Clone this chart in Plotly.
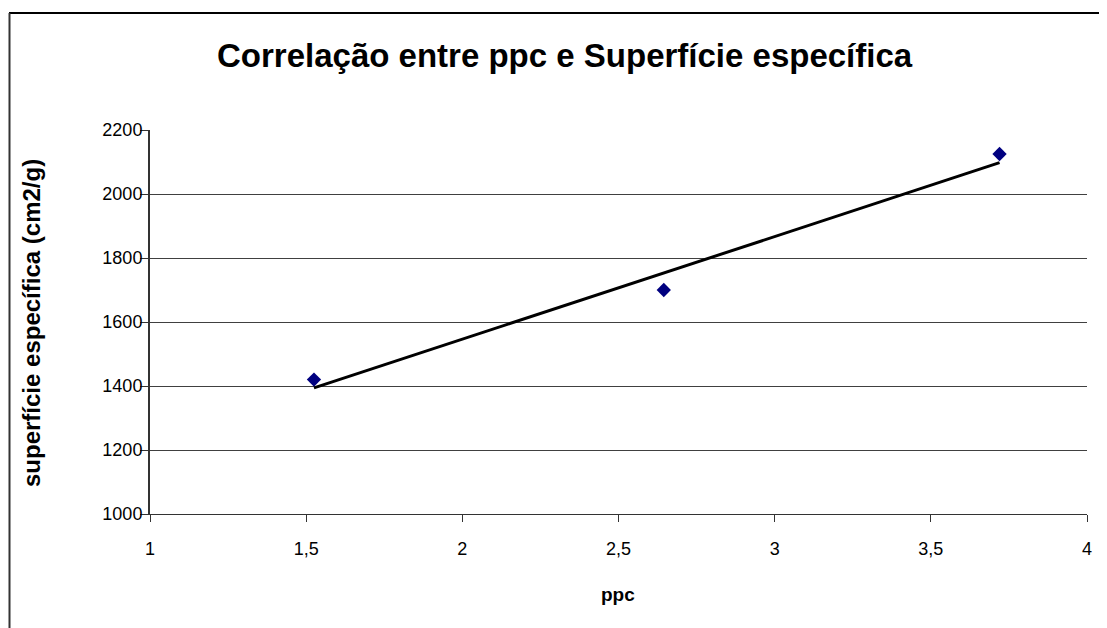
import numpy as np
import plotly.graph_objects as go

# values
ppc = [1.525, 2.645, 3.72]
superficie = [1420, 1700, 2125]

x_ticks = [1, 1.5, 2, 2.5, 3, 3.5, 4]
y_ticks = [1000, 1200, 1400, 1600, 1800, 2000, 2200]

FONT = "Arial, Liberation Sans, sans-serif"

# linear trend line (Excel style) fitted to the points
slope, intercept = np.polyfit(ppc, superficie, 1)
trend_x = [min(ppc), max(ppc)]
trend_y = [slope * v + intercept for v in trend_x]

fig = go.Figure()
fig.add_trace(go.Scatter(
    x=trend_x, y=trend_y, mode="lines",
    line=dict(color="black", width=3),
    hoverinfo="skip", showlegend=False
))
fig.add_trace(go.Scatter(
    x=ppc, y=superficie, mode="markers",
    marker=dict(symbol="diamond", size=11, color="#000080"),
    showlegend=False
))

# page body has an 8px margin, so the figure is offset by 8px
fig.update_layout(
    width=1107, height=628,
    margin=dict(l=142, r=28, t=122, b=122),
    paper_bgcolor="white", plot_bgcolor="white",
    separators=",.",
    font=dict(family=FONT, size=18, color="black"),
    xaxis=dict(
        range=[1, 4], tickvals=x_ticks, showgrid=False, zeroline=False,
        showline=True, linecolor="#333", linewidth=1,
        ticks="outside", ticklen=7, tickcolor="#333",
        ticklabelstandoff=11,
    ),
    yaxis=dict(
        range=[1000, 2200], tickvals=y_ticks, zeroline=False,
        showgrid=True, gridcolor="#404040", gridwidth=1,
        showline=True, linecolor="#333", linewidth=2,
        ticks="outside", ticklen=8, tickcolor="#333",
        ticklabelstandoff=-6,
    ),
    annotations=[
        dict(text="<b>Correlação entre ppc e Superfície específica</b>",
             xref="paper", yref="paper", x=(565 - 150) / 937, y=(514 - 55) / 384,
             showarrow=False, font=dict(size=33, family=FONT),
             xanchor="center", yanchor="middle"),
        dict(text="<b>ppc</b>", xref="paper", yref="paper",
             x=(618 - 150) / 937, y=(514 - 594) / 384, showarrow=False,
             font=dict(size=19, family=FONT), xanchor="center", yanchor="middle"),
        dict(text="<b>superfície específica (cm2/g)</b>", xref="paper", yref="paper",
             x=(31 - 150) / 937, y=(514 - 323) / 384, showarrow=False, textangle=-90,
             font=dict(size=24, family=FONT), xanchor="center", yanchor="middle"),
    ],
    shapes=[
        dict(type="line", xref="paper", yref="paper",
             x0=(9 - 150) / 937, x1=1.1, y0=(514 - 13) / 384, y1=(514 - 13) / 384,
             line=dict(color="black", width=2)),
        dict(type="line", xref="paper", yref="paper",
             x0=(9.5 - 150) / 937, x1=(9.5 - 150) / 937, y0=(514 - 13) / 384, y1=-0.5,
             line=dict(color="#333", width=2)),
    ],
)

fig.write_html("out.html")
